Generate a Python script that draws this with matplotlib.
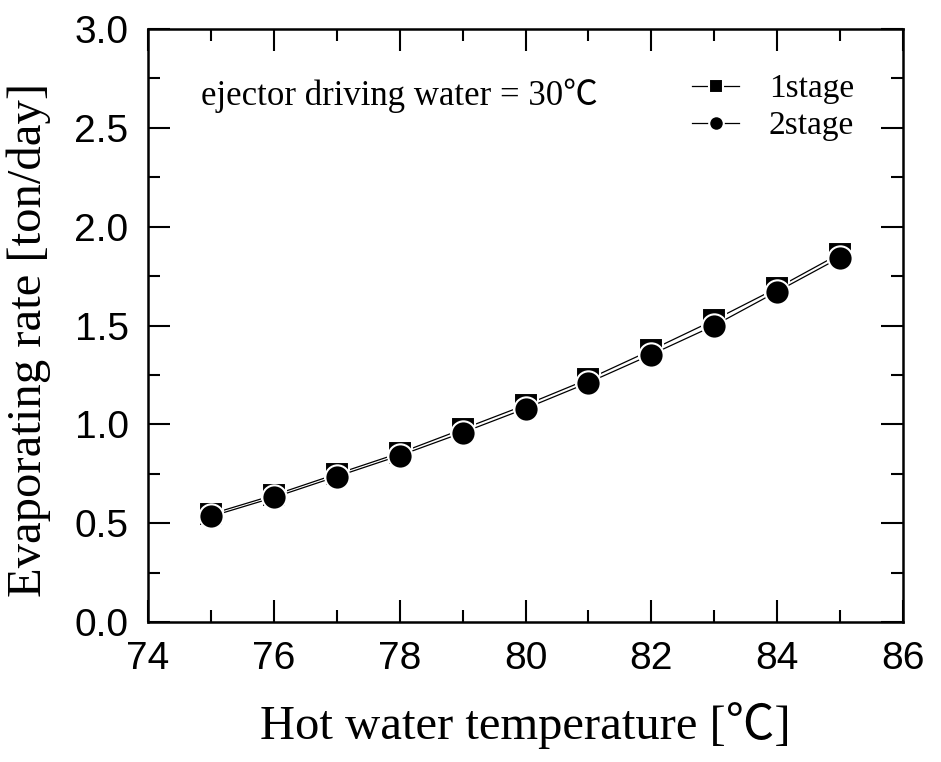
import matplotlib
matplotlib.use("Agg")
import matplotlib.pyplot as plt
from matplotlib.ticker import MultipleLocator

hot_water_temp = [75, 76, 77, 78, 79, 80, 81, 82, 83, 84, 85]
stage1 = [0.546, 0.642, 0.749, 0.855, 0.976, 1.098, 1.229, 1.376, 1.528, 1.690, 1.864]
stage2 = [0.534, 0.630, 0.736, 0.842, 0.958, 1.080, 1.211, 1.353, 1.500, 1.672, 1.844]
series_labels = ["1stage", "2stage"]
annotation = "ejector driving water = 30\u2103"
xlabel = "Hot water temperature [\u2103]"
ylabel = "Evaporating rate [ton/day]"

serif = ["Liberation Serif", "Noto Sans CJK JP"]
sans = ["Liberation Sans", "DejaVu Sans"]

fig = plt.figure(figsize=(9.41, 7.62), dpi=100)
ax = fig.add_axes([148/941, 1-622/762, (903-148)/941, (622-29)/762])

ax.plot(hot_water_temp, stage1, color="black", lw=0.9, marker="s", ms=17,
        mfc="black", mec="white", mew=1.5, label=series_labels[0], zorder=3)
ax.plot(hot_water_temp, stage2, color="black", lw=0.9, marker="o", ms=17.5,
        mfc="black", mec="white", mew=1.5, label=series_labels[1], zorder=4)

ax.set_xlim(74, 86)
ax.set_ylim(0, 3.0)
ax.xaxis.set_major_locator(MultipleLocator(2))
ax.xaxis.set_minor_locator(MultipleLocator(1))
ax.yaxis.set_major_locator(MultipleLocator(0.5))
ax.yaxis.set_minor_locator(MultipleLocator(0.25))
ax.yaxis.set_major_formatter(matplotlib.ticker.FormatStrFormatter("%.1f"))

ax.tick_params(which="both", direction="in", top=True, right=True, width=1.5)
ax.tick_params(which="major", length=16)
ax.tick_params(which="minor", length=8.5)
ax.tick_params(axis="x", which="major", pad=14)
ax.tick_params(axis="y", which="major", pad=14)
for lab in ax.get_xticklabels() + ax.get_yticklabels():
    lab.set_fontfamily(sans)
    lab.set_fontsize(28)
for s in ax.spines.values():
    s.set_linewidth(1.8)

ax.set_xlabel(xlabel, fontsize=35, family=serif, labelpad=18)
ax.set_ylabel(ylabel, fontsize=35, family=serif)
ax.yaxis.set_label_coords(-0.128, 0.475)

ax.text(0.07, 0.888, annotation, transform=ax.transAxes, fontsize=25,
        family=serif, va="center", ha="left")

leg = ax.legend(loc="upper right", bbox_to_anchor=(0.975, 0.975), frameon=False,
                prop={"family": serif, "size": 24}, markerscale=0.6,
                handlelength=1.4, handletextpad=0.9, labelspacing=0.2)

fig.savefig("out.png", dpi=100)
